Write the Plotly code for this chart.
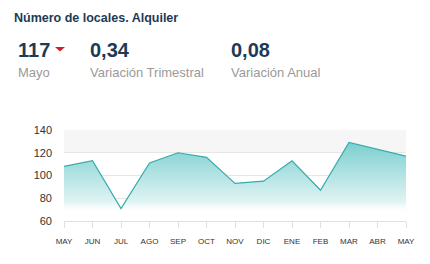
import plotly.graph_objects as go

months = ["MAY", "JUN", "JUL", "AGO", "SEP", "OCT", "NOV", "DIC", "ENE", "FEB", "MAR", "ABR", "MAY"]
values = [108, 113, 71, 111, 120, 116, 93, 95, 113, 87, 129, 123, 117]
y_ticks = [60, 80, 100, 120, 140]

title = "Número de locales. Alquiler"
kpis = [("117", "Mayo"), ("0,34", "Variación Trimestral"), ("0,08", "Variación Anual")]

W, H = 430, 264
L, R, T, B = 64, 24, 130, 43
pw, ph = W - L - R, H - T - B

def px(x):
    return (x - L) / pw

def py(y):
    return (H - B - y) / ph

xs = list(range(len(months)))
fig = go.Figure()
fig.add_trace(go.Scatter(
    x=xs, y=values, mode="lines",
    line=dict(color="#35abab", width=1.2),
    fill="tozeroy",
    fillgradient=dict(type="vertical", start=67, stop=130,
                      colorscale=[[0, "rgba(255,255,255,0.0)"], [0.15, "rgba(225,244,244,1)"],
                                  [1, "rgba(122,206,206,1)"]]),
    hoverinfo="skip", showlegend=False,
))

fig.add_shape(type="rect", xref="paper", yref="y", x0=0, x1=1, y0=120, y1=140,
              fillcolor="#f6f6f6", line_width=0, layer="below")
# red down-triangle indicator
fig.add_shape(type="path", xref="paper", yref="paper",
              path=f"M {px(55)} {py(47)} L {px(65)} {py(47)} L {px(60)} {py(51.5)} Z",
              fillcolor="#d0202a", line_width=0)

font = "Liberation Sans, Arial, sans-serif"
ann = []
ann.append(dict(text=f"<b>{title}</b>", x=px(12), y=py(18), xanchor="left", yanchor="middle",
                font=dict(size=12.5, color="#1d3a57")))
kx = [17, 89, 230]
for (v, lab), x0 in zip(kpis, kx):
    ann.append(dict(text=f"<b>{v}</b>", x=px(x0 - 1), y=py(50), xanchor="left", yanchor="middle",
                    font=dict(size=20, color="#1d3a57")))
    ann.append(dict(text=lab, x=px(x0 - 1), y=py(72), xanchor="left", yanchor="middle",
                    font=dict(size=13, color="#9a9a9a")))
for a in ann:
    a.update(xref="paper", yref="paper", showarrow=False)

fig.update_layout(
    width=W, height=H,
    margin=dict(l=L, r=R, t=T, b=B, pad=0),
    paper_bgcolor="white", plot_bgcolor="white",
    font=dict(family=font, color="#333333"),
    annotations=ann,
    xaxis=dict(range=[0, len(months) - 1], tickvals=xs, ticktext=months,
               showgrid=False, zeroline=False,
               showline=True, linecolor="#e0e0e0", linewidth=1,
               ticks="outside", ticklen=6, tickcolor="#e0e0e0",
               tickfont=dict(size=8, color="#333333"), ticklabelstandoff=6),
    yaxis=dict(range=[60, 140], tickvals=y_ticks, showgrid=True, gridcolor="#e6e6e6",
               gridwidth=1, zeroline=False, showline=False,
               tickfont=dict(size=11, color="#333333"), ticklabelstandoff=11),
)
fig.write_html("out.html")
